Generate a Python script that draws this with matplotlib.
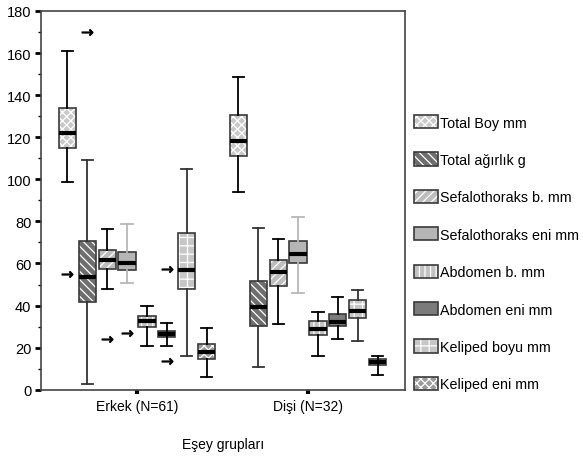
import matplotlib
matplotlib.use("Agg")
import matplotlib.pyplot as plt
from matplotlib.patches import Patch
from matplotlib.ticker import MultipleLocator

plt.rcParams['font.family'] = ['Liberation Sans', 'DejaVu Sans']
plt.rcParams['hatch.linewidth'] = 0.9

groups = ["Erkek (N=61)", "Dişi (N=32)"]
series = ["Total Boy mm", "Total ağırlık g", "Sefalothoraks b. mm", "Sefalothoraks eni mm",
          "Abdomen b. mm", "Abdomen eni mm", "Keliped boyu mm", "Keliped eni mm"]

# per series: [whislo, q1, med, q3, whishi] for Erkek, Dişi
erkek = [
    [98.7, 115.1, 122.2, 134.1, 161.1],
    [2.7, 41.6, 53.7, 70.6, 109.0],
    [48.1, 57.5, 61.6, 66.3, 76.2],
    [50.8, 56.7, 60.0, 65.4, 78.6],
    [21.0, 29.7, 32.5, 34.9, 39.7],
    [21.0, 25.1, 26.5, 27.8, 31.7],
    [16.2, 48.1, 57.1, 74.3, 104.8],
    [5.9, 14.6, 17.8, 21.7, 29.4],
]
disi = [
    [94.0, 111.1, 118.2, 130.5, 148.4],
    [10.6, 30.5, 39.4, 51.9, 76.7],
    [31.3, 49.5, 56.0, 61.6, 71.4],
    [46.0, 60.0, 64.6, 70.6, 81.9],
    [16.2, 26.2, 29.0, 32.5, 36.8],
    [24.1, 30.5, 32.2, 36.2, 44.0],
    [23.3, 34.1, 37.3, 42.4, 47.6],
    [6.8, 11.6, 13.0, 14.6, 16.2],
]
# outliers: (group index, series index, value)
outliers = [(0, 0, 54.8), (0, 1, 169.8), (0, 2, 24.1), (0, 3, 27.0), (0, 5, 57.5), (0, 5, 13.8)]

facecolors = ['#c9c9c9', '#6e6e6e', '#bdbdbd', '#b5b5b5', '#c2c2c2', '#7b7b7b', '#c6c6c6', '#9c9c9c']
hatches = ['xxxx', '\\\\\\\\', '////', None, '|||', None, '++', 'xxxx']
whisk_colors = ['black', '#333333', 'black', '#b8b8b8', 'black', 'black', '#333333', 'black']

fig = plt.figure(figsize=(5.83, 4.60), dpi=100)
ax = fig.add_axes([41/583, 1-390.7/460, (405-41)/583, (390.7-12)/460])

step = 0.1165
width = 0.10
edge = '#3a3a3a'

for i, name in enumerate(series):
    stats = []
    for g, data in enumerate([erkek, disi]):
        lo, q1, med, q3, hi = data[i]
        stats.append(dict(whislo=lo, q1=q1, med=med, q3=q3, whishi=hi, fliers=[]))
    pos = [g + 1 + (i - 3.5) * step for g in range(2)]
    # fill layer (with white hatch)
    ax.bxp(stats, positions=pos, widths=width, patch_artist=True, showcaps=False,
           boxprops=dict(facecolor=facecolors[i], edgecolor='white', hatch=hatches[i], linewidth=0),
           whiskerprops=dict(linewidth=0), medianprops=dict(linewidth=0), manage_ticks=False)
    # outline layer
    ax.bxp(stats, positions=pos, widths=width, patch_artist=True, capwidths=width * 0.65,
           boxprops=dict(facecolor='none', edgecolor=edge, linewidth=1.2),
           whiskerprops=dict(color=whisk_colors[i], linewidth=1.3),
           capprops=dict(color=whisk_colors[i], linewidth=1.3),
           medianprops=dict(color='black', linewidth=3.0, solid_capstyle='butt'),
           manage_ticks=False, zorder=3)

ox = [o[0] + 1 + (o[1] - 3.5) * step for o in outliers]
oy = [o[2] for o in outliers]
ax.plot(ox, oy, linestyle='none', marker=r'$\rightarrow$', markersize=8, color='black',
        markeredgewidth=0.6, zorder=4)

ax.set_xlim(1 - 96/171, 2 + 97/171)
ax.set_ylim(0, 180)
ax.set_xticks([1, 2])
ax.set_xticklabels(groups, fontsize=10)
ax.yaxis.set_major_locator(MultipleLocator(20))
ax.yaxis.set_minor_locator(MultipleLocator(10))
ax.tick_params(axis='y', which='major', length=4, width=2, labelsize=10.5, direction='out', pad=3)
ax.tick_params(axis='y', which='minor', length=2, width=1, direction='out')
ax.tick_params(axis='x', length=3, width=3, direction='out', pad=4)
for s in ax.spines.values():
    s.set_color('#444444')
    s.set_linewidth(1.2)
ax.set_xlabel("Eşey grupları", fontsize=10, labelpad=17)

handles = []
for i in range(8):
    p1 = Patch(facecolor=facecolors[i], edgecolor='white', hatch=hatches[i], linewidth=0)
    p2 = Patch(facecolor='none', edgecolor=edge, linewidth=1.2)
    handles.append((p1, p2))
fig.legend(handles, series, loc='upper left', bbox_to_anchor=(414/583, 1 - 116/460),
           frameon=False, fontsize=10.3, handlelength=1.65, handleheight=1.05,
           labelspacing=1.6, handletextpad=0.2, borderpad=0, borderaxespad=0)

fig.savefig("out.png", dpi=100)
